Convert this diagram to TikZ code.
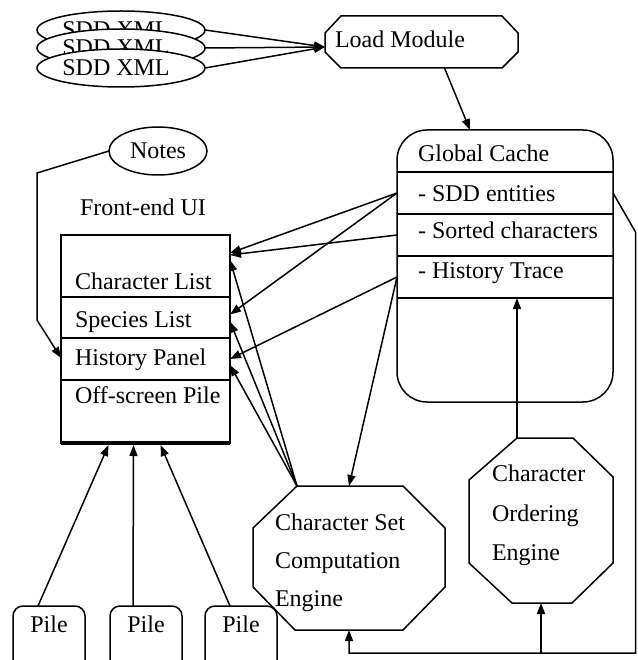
\documentclass[tikz,border=0pt]{standalone}
\usepackage{fontspec}
\setmainfont{Liberation Serif}
\usetikzlibrary{arrows.meta,shapes.geometric}
\begin{document}
\begin{tikzpicture}[x=1pt,y=-1pt,
  font=\fontsize{24}{28}\selectfont,
  line width=1.5pt,
  arr/.style={-{Triangle[length=11pt,width=8pt]}, line width=1.5pt},
  txt/.style={anchor=base west, inner sep=0pt, outer sep=0pt},
  ctxt/.style={inner sep=0pt, outer sep=0pt},
  hidden/.style={rectangle, inner sep=0pt, outer sep=0pt},
  xmlell/.style={ellipse, draw, fill=white, minimum width=168pt, minimum height=38pt, inner sep=0pt, outer sep=0pt},
  ferow/.style={rectangle, draw, minimum width=169pt, inner sep=0pt, outer sep=0pt},
  gcrow/.style={rectangle, minimum width=216pt, inner sep=0pt, outer sep=0pt},
  pilebox/.style={rectangle, draw, rounded corners=10pt, minimum width=72pt, minimum height=74pt, inner sep=0pt, outer sep=0pt}
]
\useasboundingbox (0,0) rectangle (637,660);
\clip (0,0) rectangle (637,660);

% SDD XML ellipses
\node[xmlell] (x1) at (121,30) {SDD XML\hspace*{10pt}};
\node[xmlell] (x2) at (121,48) {SDD XML\hspace*{10pt}};
\node[xmlell] (x3) at (121,68) {SDD XML\hspace*{10pt}};

% Load Module
\node[hidden, minimum width=193pt, minimum height=52pt] (lm) at (421.5,42) {};
\draw (341,16) -- (502,16) -- (518,33) -- (518,52) -- (502,68) -- (341,68) -- (325,52) -- (325,33) -- cycle;
\node[txt] (lmt) at (335,48) {Load Module};

% Global Cache
\node[draw, rectangle, rounded corners=30pt, minimum width=216pt, minimum height=272pt, inner sep=0pt, outer sep=0pt] (gc) at (505,266) {};
\node[gcrow, minimum height=42pt] (gct) at (505,151) {};
\node[gcrow, minimum height=42pt] (gcsdd) at (505,193) {};
\node[gcrow, minimum height=42pt] (gcsort) at (505,235) {};
\node[gcrow, minimum height=42pt] (gchist) at (505,277) {};
\node[gcrow, minimum height=104pt] (gcrest) at (505,350) {};
\draw (gct.south west) -- (gct.south east);
\draw (gcsdd.south west) -- (gcsdd.south east);
\draw (gcsort.south west) -- (gcsort.south east);
\draw (gchist.south west) -- (gchist.south east);
\node[txt] at (418,162) {Global Cache};
\node[txt] at (418,201) {- SDD entities};
\node[txt] at (418,238) {- Sorted characters};
\node[txt] at (418,278) {- History Trace};

% Notes
\node[ellipse, draw, minimum width=98pt, minimum height=48pt, inner sep=0pt, outer sep=0pt] (notes) at (158,151) {Notes};

% Front-end UI
\node[ctxt] (fetitle) at (143,207) {Front-end UI};
\node[ferow, minimum height=62pt] (fe1) at (145.5,266) {};
\node[ferow, minimum height=41pt] (fe2) at (145.5,317.5) {};
\node[ferow, minimum height=42pt] (fe3) at (145.5,359) {};
\node[ferow, minimum height=63pt] (fe4) at (145.5,411.5) {};
\draw[line width=3.5pt] (fe4.south west) -- (fe4.south east);
\node[txt] at (75,289) {Character List};
\node[txt] at (75,327) {Species List};
\node[txt] at (75,365) {History Panel};
\node[txt] at (75,403) {Off-screen Pile};

% Character Set Computation Engine
\node[hidden, minimum width=192pt, minimum height=144pt] (csc) at (349,558) {};
\draw (297,486) -- (403,486) -- (445,528) -- (445,587) -- (403,630) -- (295,630) -- (253,587) -- (253,528) -- cycle;
\coordinate (csctl) at (297,486);
\node[txt] at (275,530) {Character Set};
\node[txt] at (275,568) {Computation};
\node[txt] at (275,606) {Engine};

% Character Ordering Engine
\node[hidden, minimum width=144pt, minimum height=165pt] (coe) at (541,520.5) {};
\draw (517,438) -- (573,438) -- (613,477) -- (613,563) -- (572,603) -- (512,603) -- (469,563) -- (469,480) -- cycle;
\coordinate (coetl) at (517,438);
\node[txt] at (492,481) {Character};
\node[txt] at (492,521) {Ordering};
\node[txt] at (492,560) {Engine};

% Piles
\node[pilebox] (p1) at (49,643) {};
\node[pilebox] (p2) at (146,643) {};
\node[pilebox] (p3) at (241,643) {};
\node[ctxt] (p1t) at (49,624) {Pile};
\node[ctxt] (p2t) at (146,624) {Pile};
\node[ctxt] (p3t) at (241,624) {Pile};

% Connectors
\draw[arr] (x1.east) -- ([yshift=-5pt]lm.west);
\draw[arr] (x2.east) -- ([yshift=-5pt]lm.west);
\draw[arr] (x3.east) -- ([yshift=-5pt]lm.west);
\draw[arr] ([xshift=23pt]lm.south) -- ([xshift=-35pt]gc.north);

\draw[arr] (notes.west) -- (37,173) -- (37,320) -- ([yshift=1pt]fe3.west);

\draw[arr] (gcsdd.west) -- ([yshift=13pt]fe1.east);
\draw[arr] (gcsdd.west) -- ([yshift=3pt]fe2.east);
\draw[arr] (gcsort.west) -- ([yshift=11pt]fe1.east);
\draw[arr] (gchist.west) -- (fe3.east);
\draw[arr] (gchist.west) -- (csc.north);

\draw[arr] (csctl) -- ([yshift=6pt]fe1.east);
\draw[arr] (csctl) -- ([yshift=-4pt]fe2.east);
\draw[arr] (csctl) -- ([yshift=-6pt]fe3.east);

\draw[arr] (coetl) -- (coetl |- gcrest.north);

\coordinate (fb) at (635.5,653);
\draw[arr] (gcsdd.east) -- (635.5,232) -- (fb) -- (csc.south |- fb) -- (csc.south);
\draw[arr] (coe.south |- fb) -- (coe.south);

\draw[arr] ([xshift=-11pt]p1.north) -- ([xshift=-37pt,yshift=-2pt]fe4.south);
\draw[arr] ([xshift=-13pt]p2.north) -- ([xshift=-12pt,yshift=-2pt]fe4.south);
\draw[arr] ([xshift=-11pt]p3.north) -- ([xshift=15pt,yshift=-2pt]fe4.south);
\end{tikzpicture}
\end{document}
